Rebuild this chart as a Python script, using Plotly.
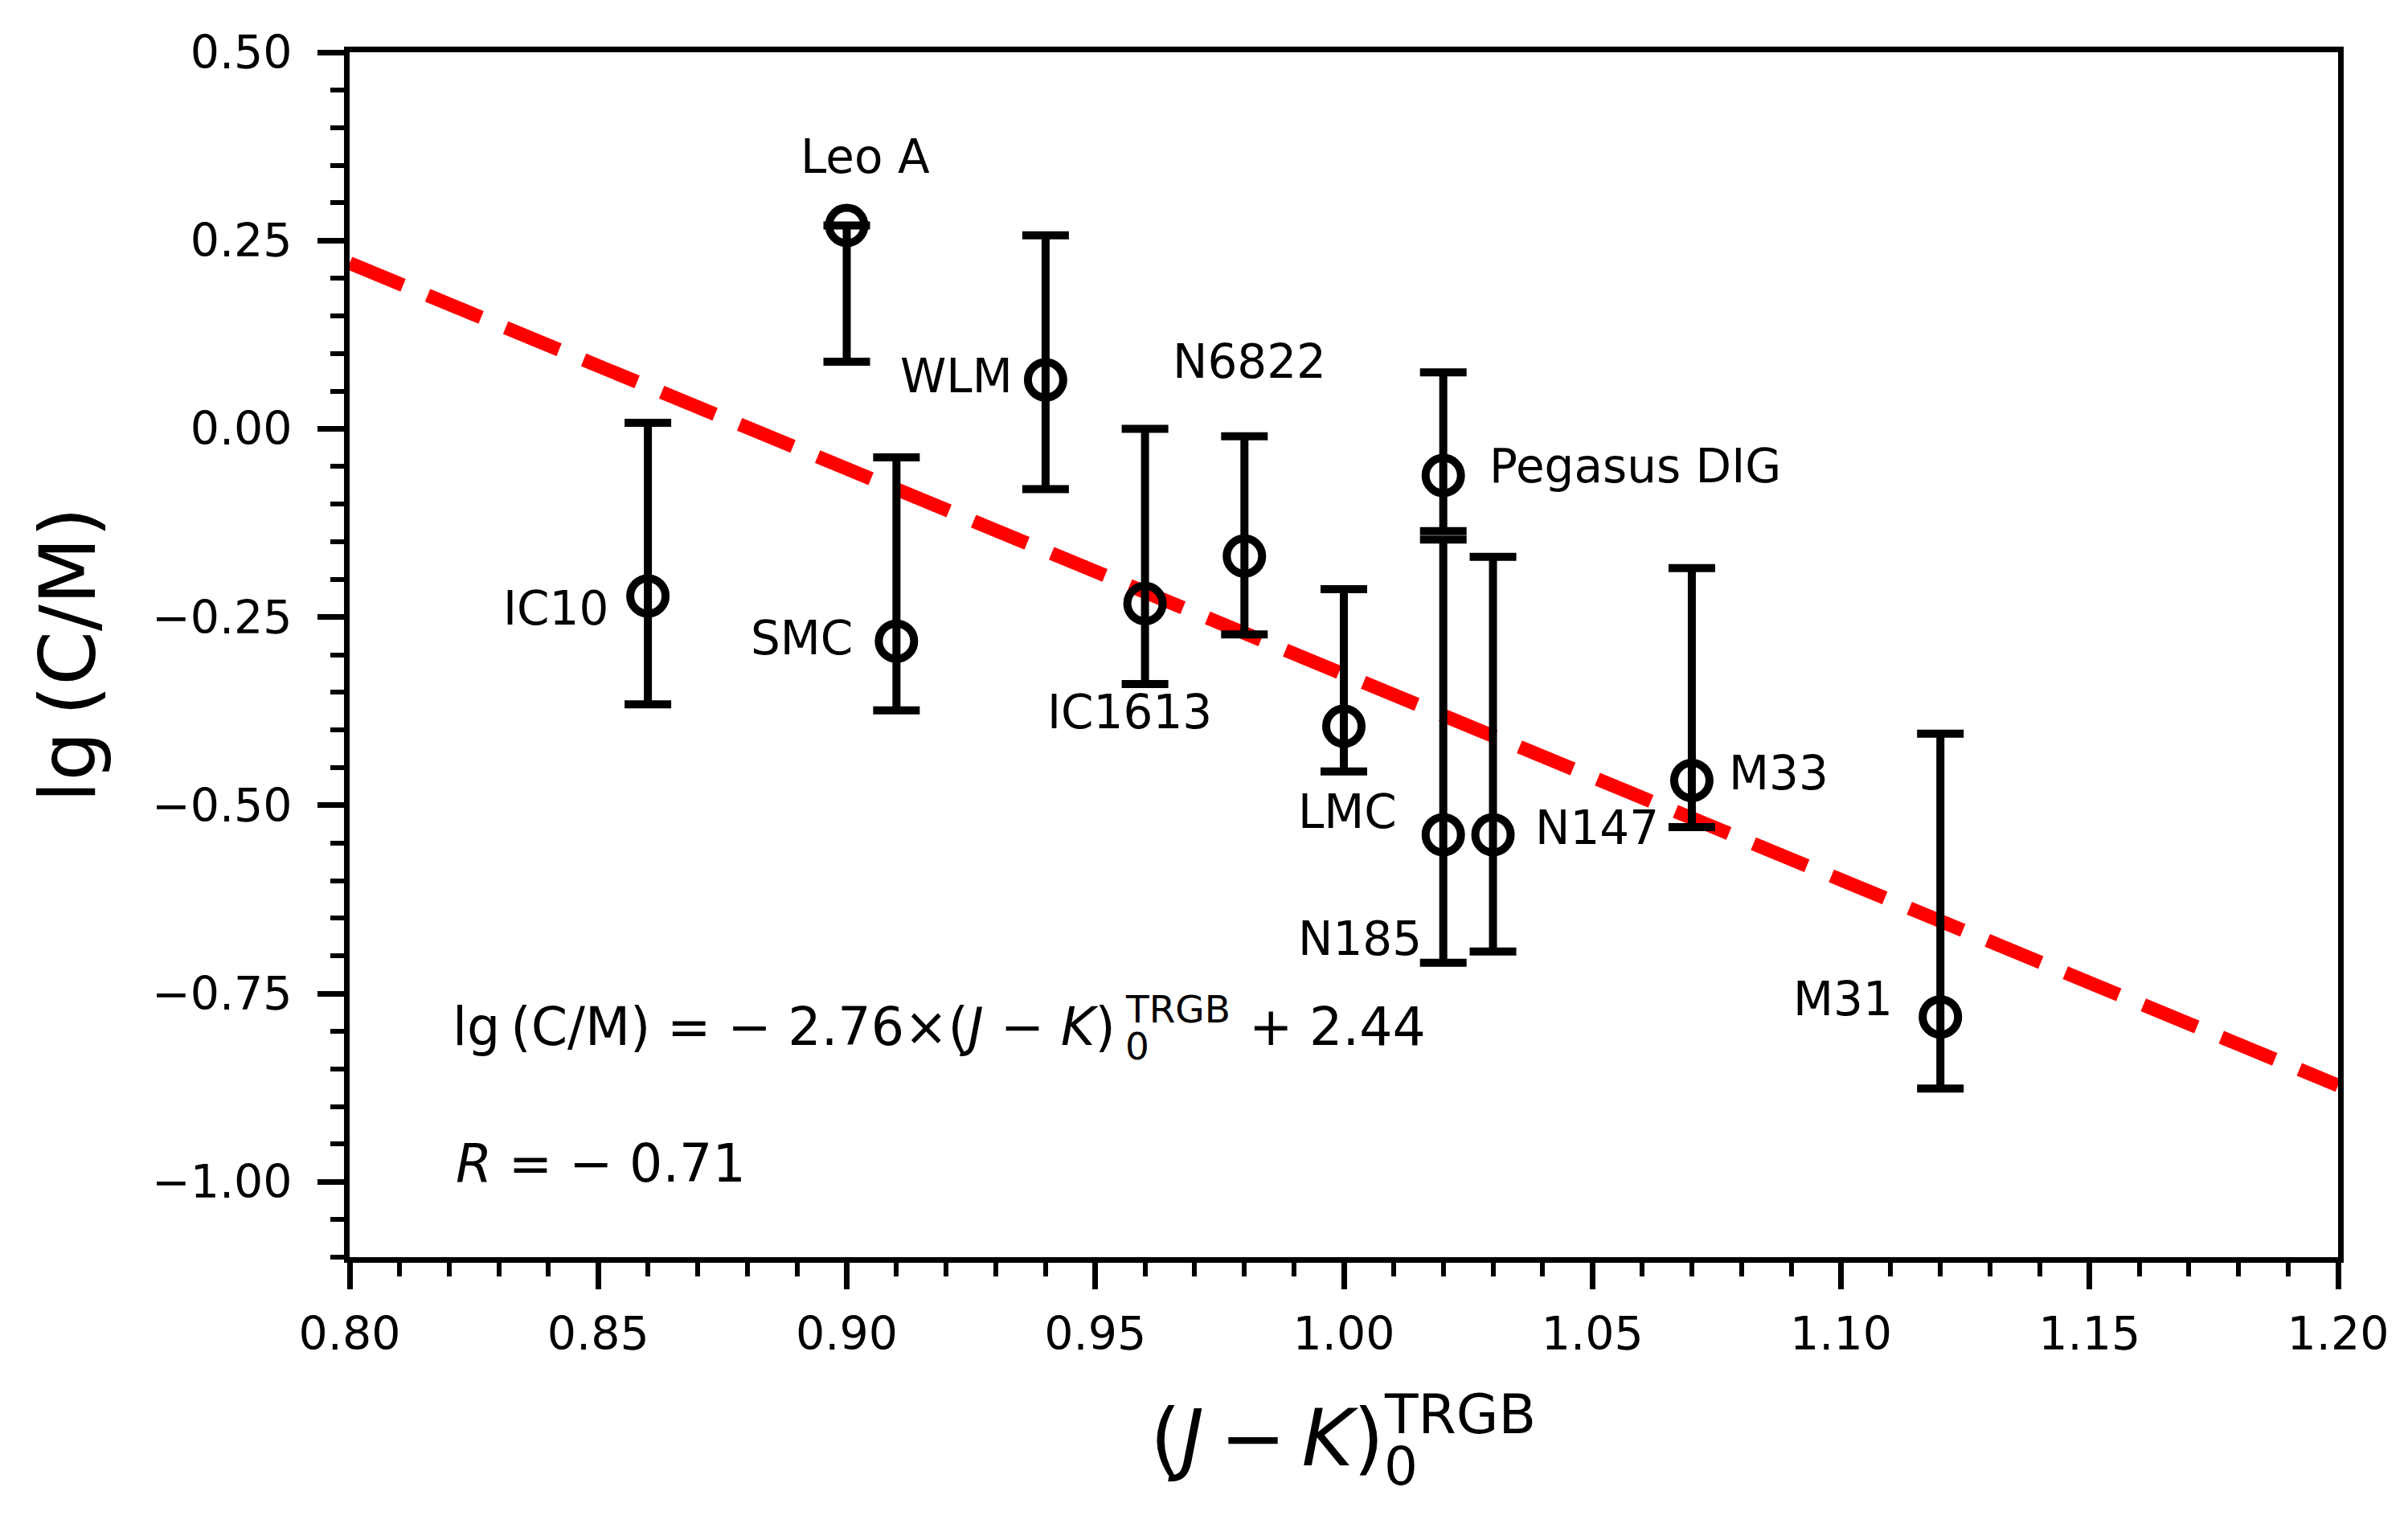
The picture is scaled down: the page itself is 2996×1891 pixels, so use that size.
import plotly.graph_objects as go

# galaxies: TRGB colour vs C/M ratio

galaxy = ["IC10", "Leo A", "SMC", "WLM", "IC1613", "N6822", "LMC",
          "Pegasus DIG", "N185", "N147", "M33", "M31"]
jk_trgb = [0.86, 0.90, 0.91, 0.94, 0.96, 0.98, 1.00, 1.02, 1.02, 1.03, 1.07, 1.12]
lg_cm = [-0.222, 0.270, -0.282, 0.065, -0.232, -0.169, -0.395,
         -0.062, -0.539, -0.539, -0.467, -0.781]
err_up = [0.230, 0.0, 0.244, 0.192, 0.232, 0.159, 0.182,
          0.137, 0.392, 0.369, 0.282, 0.376]
err_down = [0.144, 0.181, 0.092, 0.145, 0.107, 0.104, 0.060,
            0.074, 0.170, 0.155, 0.062, 0.095]

# numbers quoted in the fit text
fit_slope = -2.76
fit_intercept = 2.44
fit_r = -0.71
# the dashed line as drawn in the figure
line_slope = -2.73
line_intercept = 2.404
line_x = [0.80, 1.20]
line_y = [line_slope * v + line_intercept for v in line_x]

# where the galaxy names sit (left edge, baseline) in data units
label_x = [0.8305, 0.8904, 0.8804, 0.9105, 0.940, 0.9652, 0.9904,
           1.029, 0.9904, 1.0382, 1.0772, 1.090]
label_y = [-0.260, 0.340, -0.300, 0.0486, -0.398, 0.0678, -0.530,
           -0.071, -0.699, -0.551, -0.479, -0.779]

FONT = "DejaVu Sans"


def mid_shift(size):
    # baseline -> middle of the text box for DejaVu Sans
    return 0.346 * size


trace_fit = go.Scatter(
    x=line_x,
    y=line_y,
    mode="lines",
    line=dict(color="red", width=17, dash="72px,33px"),
    hoverinfo="skip",
)

trace_pts = go.Scatter(
    x=jk_trgb,
    y=lg_cm,
    mode="markers",
    text=galaxy,
    marker=dict(symbol="circle-open", size=44, color="black",
                line=dict(width=10, color="black")),
    error_y=dict(type="data", symmetric=False, array=err_up,
                 arrayminus=err_down, color="black", thickness=10, width=29),
)

annotations = []
for name, lx, ly in zip(galaxy, label_x, label_y):
    annotations.append(dict(
        x=lx, y=ly, xref="x", yref="y", text=name, showarrow=False,
        xanchor="left", yanchor="middle", yshift=mid_shift(58),
        font=dict(family=FONT, size=58, color="black"),
    ))

# fit equation, built from pieces so the sub/superscript can stack
eq_size = 65
eq_small = 47
annotations += [
    dict(x=0.9544, y=-0.8178, xref="x", yref="y", showarrow=False,
         text="lg\u2009(C/M) = \u2212 %.2f\u00d7(<i>J</i> \u2212 <i>K</i>)" % abs(fit_slope),
         xanchor="right", yanchor="middle", yshift=mid_shift(eq_size),
         font=dict(family=FONT, size=eq_size, color="black")),
    dict(x=0.9557, y=-0.8371, xref="x", yref="y", showarrow=False, text="0",
         xanchor="left", yanchor="middle", yshift=mid_shift(eq_small),
         font=dict(family=FONT, size=eq_small, color="black")),
    dict(x=0.9557, y=-0.7879, xref="x", yref="y", showarrow=False, text="TRGB",
         xanchor="left", yanchor="middle", yshift=mid_shift(eq_small),
         font=dict(family=FONT, size=eq_small, color="black")),
    dict(x=0.9806, y=-0.8178, xref="x", yref="y", showarrow=False,
         text="+ %.2f" % fit_intercept,
         xanchor="left", yanchor="middle", yshift=mid_shift(eq_size),
         font=dict(family=FONT, size=eq_size, color="black")),
    dict(x=0.821, y=-0.9995, xref="x", yref="y", showarrow=False,
         text="<i>R</i> = \u2212 %.2f" % abs(fit_r),
         xanchor="left", yanchor="middle", yshift=mid_shift(eq_size),
         font=dict(family=FONT, size=eq_size, color="black")),
]

# axis titles
annotations += [
    dict(x=-0.1415, y=0.5, xref="paper", yref="paper", showarrow=False,
         text="lg\u2009(C/M)", textangle=-90, xanchor="center", yanchor="middle",
         font=dict(family=FONT, size=97, color="black")),
    dict(x=0.5210, y=-0.1502, xref="paper", yref="paper", showarrow=False,
         text="(<i>J</i>\u2009\u2212\u2009<i>K</i>)", xanchor="right", yanchor="middle",
         font=dict(family=FONT, size=98, color="black")),
    dict(x=0.5194, y=-0.1735, xref="paper", yref="paper", showarrow=False,
         text="0", xanchor="left", yanchor="middle",
         font=dict(family=FONT, size=66, color="black")),
    dict(x=0.5194, y=-0.1305, xref="paper", yref="paper", showarrow=False,
         text="TRGB", xanchor="left", yanchor="middle",
         font=dict(family=FONT, size=68, color="black")),
]

axis_style = dict(
    showline=True, linecolor="black", linewidth=7, mirror=True,
    showgrid=False, zeroline=False,
    ticks="outside", ticklen=33, tickwidth=7, tickcolor="black",
    tickfont=dict(family=FONT, size=57, color="black"),
    tickformat=".2f",
)

# page body has an 8px margin, so the figure is a bit smaller than the window
layout = go.Layout(
    width=2988,
    height=1883,
    margin=dict(l=427, r=87, t=57, b=327),
    paper_bgcolor="white",
    plot_bgcolor="white",
    showlegend=False,
    xaxis=dict(range=[0.80, 1.20], tick0=0.8, dtick=0.05,
               ticklabelstandoff=7,
               minor=dict(dtick=0.01, ticks="outside", ticklen=17,
                          tickwidth=6, tickcolor="black"),
               **axis_style),
    yaxis=dict(range=[-1.10, 0.50], tick0=0, dtick=0.25,
               ticklabelstandoff=20,
               minor=dict(dtick=0.05, ticks="outside", ticklen=17,
                          tickwidth=6, tickcolor="black"),
               **axis_style),
    annotations=annotations,
)

fig = go.Figure(data=[trace_fit, trace_pts], layout=layout)
fig.write_html("out.html")
